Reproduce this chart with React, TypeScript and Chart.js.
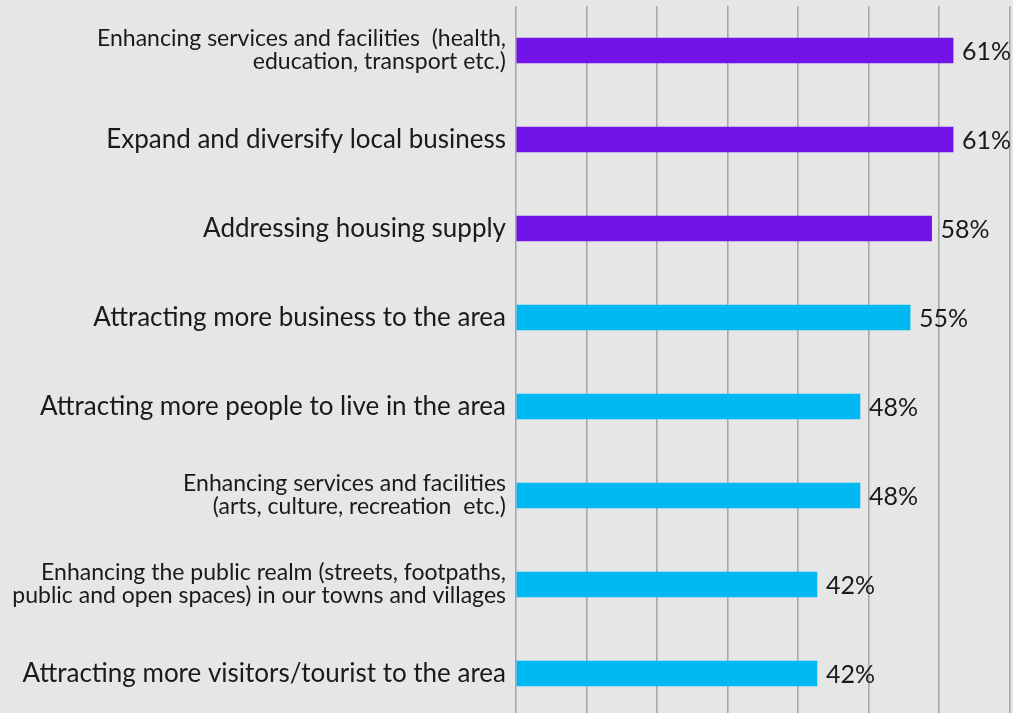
import React, { useEffect, useRef } from "react";
import { Chart, registerables } from "chart.js";

Chart.register(...registerables);

const categories: (string | string[])[] = [
  ["Enhancing services and facilities  (health,", "education, transport etc.)"],
  "Expand and diversify local business",
  "Addressing housing supply",
  "Attracting more business to the area",
  "Attracting more people to live in the area",
  ["Enhancing services and facilities", "(arts, culture, recreation  etc.)"],
  ["Enhancing the public realm (streets, footpaths,", "public and open spaces) in our towns and villages"],
  "Attracting more visitors/tourist to the area",
];
const values = [61, 61, 58, 55, 48, 48, 42, 42];
const valueLabels = values.map((v) => `${v}%`);
const highlightCount = 3;

const PURPLE = "#7214e8";
const CYAN = "#00b8f2";
const BG = "#e6e6e6";
const GRID = "#a8a8a8";
const TEXT = "#1a1a1a";
const FONT = "Lato";

const X_MAX = 69.36;
const GRID_STEP = 9.835;

const zeroPad = (axis: any) => {
  axis.paddingTop = 0;
  axis.paddingBottom = 0;
  axis.paddingLeft = 0;
  axis.paddingRight = 0;
};

const valueLabelPlugin = {
  id: "valueLabels",
  afterDatasetsDraw(chart: any) {
    const ctx = chart.ctx;
    const meta = chart.getDatasetMeta(0);
    ctx.save();
    ctx.font = `25px ${FONT}`;
    ctx.fillStyle = TEXT;
    ctx.textAlign = "left";
    ctx.textBaseline = "middle";
    meta.data.forEach((bar: any, i: number) => {
      ctx.fillText(valueLabels[i], bar.x + 9, bar.y + 1);
    });
    ctx.restore();
  },
};

export default function App() {
  const ref = useRef<HTMLCanvasElement | null>(null);

  useEffect(() => {
    document.body.style.margin = "0";
    document.body.style.overflow = "hidden";
    document.body.style.background = BG;
    if (!ref.current) return;
    const chart = new Chart(ref.current, {
      type: "bar",
      data: {
        labels: categories,
        datasets: [
          {
            data: values,
            backgroundColor: (c: any) => (c.dataIndex < highlightCount ? PURPLE : CYAN),
            barThickness: 25,
          },
        ],
      },
      options: {
        indexAxis: "y",
        animation: false,
        responsive: true,
        maintainAspectRatio: false,
        layout: { padding: { top: 6, right: 0, bottom: 0, left: 0 } },
        plugins: {
          legend: { display: false },
          tooltip: { enabled: false },
        },
        scales: {
          x: {
            min: 0,
            max: X_MAX,
            afterBuildTicks: (axis: any) => {
              const t = [];
              for (let i = 0; i * GRID_STEP <= X_MAX; i++) t.push({ value: i * GRID_STEP });
              axis.ticks = t;
            },
            afterFit: (axis: any) => {
              axis.height = 0;
              zeroPad(axis);
            },
            ticks: { display: false },
            grid: { color: GRID, lineWidth: 1.6, drawTicks: false },
            border: { display: false },
          },
          y: {
            afterFit: (axis: any) => {
              axis.width = 516;
              zeroPad(axis);
            },
            grid: { display: false, drawTicks: false },
            border: { display: false },
            ticks: {
              color: TEXT,
              padding: 10,
              font: (c: any) => ({
                family: FONT,
                size: Array.isArray(categories[c.index]) ? 23 : 26,
                lineHeight: 1.0,
              }),
            },
          },
        },
      },
      plugins: [valueLabelPlugin],
    } as any);
    return () => chart.destroy();
  }, []);

  return (
    <div style={{ width: 1013, height: 718, background: BG, position: "relative" }}>
      <canvas ref={ref} />
    </div>
  );
}
